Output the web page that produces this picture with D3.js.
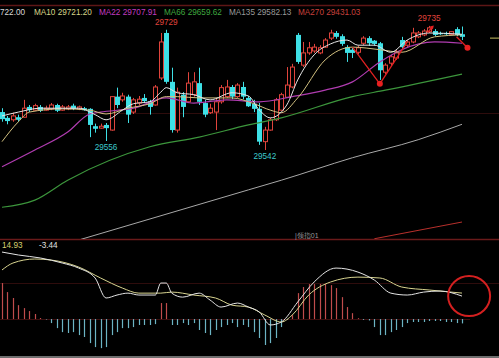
<!DOCTYPE html>
<html><head><meta charset="utf-8">
<script src="https://cdn.jsdelivr.net/npm/d3@7"></script>
<style>body{margin:0;background:#000;overflow:hidden}svg{display:block}text{font-family:"Liberation Sans",Arial,sans-serif}</style>
</head><body><svg id="c" width="499" height="358"></svg>
<script>
// ---- candles (price) ----
const opens=[29601,29592,29589,29593,29593,29609,29604,29609,29604,29606,
29612,29604,29606,29611,29606,29607,29606,29579,29576,29581,
29573,29625,29620,29625,29601,29615,29623,29618,29612,29654,
29724,29648,29573,29628,29617,29628,29646,29615,29600,29601,
29617,29625,29640,29625,29640,29623,29614,29606,29555,29573,
29589,29604,29624,29640,29721,29674,29693,29696,29693,29702,
29716,29724,29719,29702,29698,29694,29708,29716,29712,29708,
29663,29677,29685,29713,29705,29710,29718,29721,29726,29727,
29724,29724,29722,29730,29722];
const highs=[29607,29595,29600,29597,29620,29612,29614,29612,29611,29615,
29614,29612,29612,29614,29611,29609,29607,29583,29583,29584,
29626,29639,29631,29628,29623,29626,29629,29620,29643,29724,
29729,29670,29639,29632,29663,29663,29670,29620,29614,29623,
29643,29651,29643,29646,29648,29626,29620,29615,29578,29592,
29623,29631,29671,29676,29724,29710,29710,29707,29705,29716,
29729,29727,29722,29705,29701,29704,29719,29719,29713,29710,
29677,29690,29698,29718,29713,29732,29727,29730,29735,29730,
29726,29726,29727,29733,29734];
const lows=[29586,29582,29586,29586,29592,29601,29603,29601,29603,29604,
29601,29603,29604,29604,29604,29603,29562,29569,29575,29556,
29572,29607,29617,29584,29598,29612,29615,29597,29611,29651,
29645,29569,29569,29593,29615,29625,29612,29593,29598,29573,
29614,29623,29621,29623,29621,29609,29601,29550,29542,29572,
29587,29603,29623,29638,29676,29671,29690,29693,29691,29701,
29713,29715,29704,29679,29685,29691,29705,29704,29704,29651,
29660,29673,29682,29698,29702,29708,29716,29719,29724,29719,
29721,29721,29721,29719,29713];
const closes=[29590,29587,29595,29589,29607,29604,29611,29603,29607,29612,
29603,29609,29609,29606,29609,29604,29581,29575,29579,29576,
29625,29612,29626,29597,29620,29621,29618,29609,29640,29710,
29648,29573,29632,29609,29646,29648,29617,29597,29607,29617,
29639,29640,29625,29643,29625,29610,29606,29555,29573,29589,
29620,29628,29643,29671,29679,29693,29701,29702,29701,29713,
29724,29718,29707,29693,29693,29701,29716,29708,29707,29666,
29674,29687,29693,29702,29710,29724,29724,29727,29732,29721,
29722,29722,29726,29721,29718];

// ---- moving averages (read points: candle index / value) ----
const ma5Idx=[0,3,7,11,14,17,19,22,24,27,29,30,32,35,38,42,45,47,49,52,54,57,60,63,65,68,71,74,78,84];
const ma5Val=[29595,29601,29607,29607,29607,29597,29589,29604,29614,29617,29632,29639,29631,29628,29620,29631,29626,29604,29592,29612,29651,29690,29707,29713,29705,29705,29694,29713,29724,29722];
const ma10Idx=[0,3,5,11,16,19,23,27,30,32,36,42,46,49,51,54,59,64,69,73,79,84];
const ma10Val=[29555,29586,29601,29606,29604,29598,29607,29614,29625,29625,29623,29623,29614,29604,29600,29623,29682,29702,29698,29694,29718,29721];
const ma22Idx=[0,6,12,16,18,24,30,35,41,47,53,59,64,69,73,79,84];
const ma22Val=[29516,29542,29570,29598,29601,29607,29623,29615,29620,29617,29625,29635,29648,29679,29698,29710,29708];
const ma66Idx=[0,6,12,27,36,45,51,64,70,84];
const ma66Val=[29453,29464,29495,29547,29562,29581,29592,29625,29635,29660];
const ma135Idx=[14,45,51,64,76,84];
const ma135Val=[29402,29480,29495,29530,29558,29582];
const ma270Idx=[68,84];
const ma270Val=[29404,29430];

// legend texts as visible in the picture (MA5's label is cut by the left edge)
const legendNames=["","MA10","MA22","MA66","MA135","MA270"];
const legendValues=["722.00","29721.20","29707.91","29659.62","29582.13","29431.03"];

// ---- MACD ----
const macdHist=[20.7,15.5,12.1,8.0,6.3,4.6,2.9,0.6,-0.3,-2.3,
-5.2,-7.5,-8.0,-7.5,-9.2,-10.3,-13.8,-16.1,-16.7,-16.1,
-9.2,-7.5,-5.2,-5.2,-4.6,-3.4,-3.4,-3.4,-2.9,9.2,
9.2,-3.4,-3.4,-2.3,-3.4,-2.3,-6.3,-8.0,-9.2,-6.3,
-4.6,-3.4,-2.3,-4.6,-3.4,-4.6,-7.5,-10.9,-14.9,-13.8,
-10.9,-4.6,-0.5,2.3,14.9,18.4,20.1,20.1,20.1,20.1,
19.5,17.8,12.6,6.9,3.4,0.5,-0.5,-0.8,-4.6,-9.2,
-9.2,-7.5,-6.3,-4.6,-2.3,-1.7,-1.7,-1.7,-1.1,-1.1,
-1.1,-1.7,-1.7,-2.3,-2.5];
const difIdx=[0,3,7,11,14,17,19,21,23,25,28,29,30,31,33,36,38,40,43,45,47,49,51,54,57,61,65,68,71,74,77,80,84];
const difVal=[38.5,36.8,35.1,32.2,29.3,23.6,12.1,13.8,14.9,13.8,13.8,20.7,20.7,14.9,12.6,14.9,10.9,6.9,9.2,6.9,4.0,-3.4,-1.7,9.8,21.3,29.3,27.0,22.4,14.9,13.8,15.5,16.1,13.2];
const deaIdx=[0,2,6,9,14,18,22,25,29,31,35,39,42,45,48,51,53,56,60,65,69,73,78,82,84];
const deaVal=[28.2,32.2,34.5,33.9,29.9,23.6,17.8,14.9,14.9,15.5,13.8,12.1,8.0,6.9,2.3,-1.7,2.3,13.8,21.3,24.1,23.6,18.4,16.7,15.5,14.93];
const macdHeader=["14.93","-3.44"];

const peakLabels=[{i:30,p:29729,t:"29729",c:"#e0443c",hi:true},{i:19,p:29556,t:"29556",c:"#3cc8cc",hi:false},
{i:48,p:29542,t:"29542",c:"#3cc8cc",hi:false},{i:78,p:29735,t:"29735",c:"#e0443c",hi:true}];

// ---- drawing ----
const svg=d3.select("#c");
svg.append("rect").attr("width",499).attr("height",358).attr("fill","#000");
const x=d3.scaleLinear().domain([0,84]).range([2,462]);
const yP=d3.scaleLinear().domain([29403.6,29767.5]).range([239,5]);
const yM=d3.scaleLinear().domain([-21.8,46]).range([357,239]);

svg.append("clipPath").attr("id","mainclip").append("rect").attr("x",0).attr("y",6).attr("width",499).attr("height",233);
svg.append("clipPath").attr("id","macdclip").append("rect").attr("x",0).attr("y",240).attr("width",499).attr("height",116);

// frame lines
svg.append("line").attr("x1",0).attr("x2",499).attr("y1",5.5).attr("y2",5.5).attr("stroke","#5e1616").attr("stroke-width",1.5);
svg.append("line").attr("x1",0).attr("x2",499).attr("y1",Math.round(yP(29600))+0.5).attr("y2",Math.round(yP(29600))+0.5).attr("stroke","#2e0c0c").attr("stroke-width",1);
svg.append("line").attr("x1",0).attr("x2",499).attr("y1",239.5).attr("y2",239.5).attr("stroke","#6a1a1a").attr("stroke-width",1.5);
svg.append("line").attr("x1",0).attr("x2",499).attr("y1",Math.round(yM(21))+0.5).attr("y2",Math.round(yM(21))+0.5).attr("stroke","#2e0c0c");
svg.append("line").attr("x1",0).attr("x2",470).attr("y1",Math.round(yM(0))+0.5).attr("y2",Math.round(yM(0))+0.5).attr("stroke","#3a0e0e");
svg.append("rect").attr("x",0).attr("y",356).attr("width",499).attr("height",2).attr("fill","#6e6e6e");

// legend
const legendX=[0,34,99,164,229,298];
const legendCol=["#d8d8d8","#d6d488","#c23cc0","#3fa83f","#9a9a9a","#c8403c"];
legendNames.forEach((n,k)=>{
  svg.append("text").attr("x",legendX[k]).attr("y",14.5).attr("font-size",8.2)
   .attr("fill",legendCol[k]).text((n?n+" ":"")+legendValues[k]);
});

const main=svg.append("g").attr("clip-path","url(#mainclip)");
// MA lines
const maSets=[[ma270Idx,ma270Val,"#b8302c",1],[ma135Idx,ma135Val,"#a8a8a8",1],[ma66Idx,ma66Val,"#3c963c",1.2],
[ma22Idx,ma22Val,"#b03cb0",1.2],[ma10Idx,ma10Val,"#d2c080",1],[ma5Idx,ma5Val,"#e6e6e6",1]];
const lineG=d3.line().x(d=>x(d[0])).y(d=>yP(d[1])).curve(d3.curveMonotoneX);

// candles
const data=d3.range(opens.length).map(i=>({i,o:opens[i],h:highs[i],l:lows[i],c:closes[i]}));
const cg=main.append("g");
data.forEach(d=>{
  const up=d.c>d.o;
  const col=up?"#e0443c":"#3ee0e6";
  const cx=Math.round(x(d.i))+0.5;
  const top=yP(Math.max(d.o,d.c)), bot=yP(Math.min(d.o,d.c));
  if(up){
    cg.append("line").attr("x1",cx).attr("x2",cx).attr("y1",yP(d.h)).attr("y2",top).attr("stroke",col);
    cg.append("line").attr("x1",cx).attr("x2",cx).attr("y1",bot).attr("y2",yP(d.l)).attr("stroke",col);
    cg.append("rect").attr("x",cx-2).attr("y",top).attr("width",4).attr("height",Math.max(1,bot-top))
      .attr("fill","#000").attr("stroke",col).attr("stroke-width",1);
  } else {
    cg.append("line").attr("x1",cx).attr("x2",cx).attr("y1",yP(d.h)).attr("y2",yP(d.l)).attr("stroke",col);
    cg.append("rect").attr("x",cx-2.5).attr("y",top).attr("width",5).attr("height",Math.max(1.2,bot-top)).attr("fill",col);
  }
});
maSets.forEach(([ix,v,c,w])=>{
  main.append("path").datum(ix.map((k,j)=>[k,v[j]])).attr("d",lineG).attr("fill","none").attr("stroke",c).attr("stroke-width",w);
});

// red hand annotations
const annoPts=[[64,29702],[69,29645],[74,29710]];
main.append("path").datum(annoPts).attr("d",d3.line().x(d=>x(d[0])).y(d=>yP(d[1]))).attr("fill","none").attr("stroke","#e02020").attr("stroke-width",1.3);
main.append("path").datum([[83,29718],[85,29701]]).attr("d",d3.line().x(d=>x(d[0])).y(d=>yP(d[1]))).attr("fill","none").attr("stroke","#e02020").attr("stroke-width",1.3);
[[69,29645],[85,29701]].forEach(p=>main.append("circle").attr("cx",x(p[0])).attr("cy",yP(p[1])).attr("r",3).attr("fill","#e82020"));
const ax=x(78.3), ay=yP(29734);
main.append("path").attr("d",`M${ax-3},${ay+6}L${ax+1},${ay+1}`).attr("stroke","#e82020").attr("stroke-width",1.5);
main.append("path").attr("d",`M${ax+3},${ay-1}L${ax-1},${ay}L${ax+2},${ay+3}Z`).attr("fill","#e82020");

// peak labels
peakLabels.forEach(L=>{
  svg.append("text").attr("x",x(L.i)).attr("y",L.hi?yP(L.p)-5:yP(L.p)+9).attr("text-anchor","middle")
   .attr("font-size",8.2).attr("fill",L.c).text(L.t);
});

// right side last price marker
const lastMarker=29716;
svg.append("line").attr("x1",490).attr("x2",499).attr("y1",yP(lastMarker)).attr("y2",yP(lastMarker)).attr("stroke","#c8c060");

svg.append("text").attr("x",295).attr("y",238).attr("font-size",7).attr("fill","#9a9a9a").text("|领指01");

// MACD
const mg=svg.append("g").attr("clip-path","url(#macdclip)");
macdHist.forEach((v,i)=>{
  mg.append("line").attr("x1",Math.round(x(i))+0.5).attr("x2",Math.round(x(i))+0.5)
    .attr("y1",yM(0)).attr("y2",yM(v)).attr("stroke",v>0?"#c04c4c":"#6cb4c4").attr("stroke-width",1.2);
});
const lineM=d3.line().x(d=>x(d[0])).y(d=>yM(d[1])).curve(d3.curveMonotoneX);
mg.append("path").datum(deaIdx.map((k,j)=>[k,deaVal[j]])).attr("d",lineM).attr("fill","none").attr("stroke","#d8d490").attr("stroke-width",1);
mg.append("path").datum(difIdx.map((k,j)=>[k,difVal[j]])).attr("d",lineM).attr("fill","none").attr("stroke","#e4e4e4").attr("stroke-width",1);
svg.append("text").attr("x",2).attr("y",248).attr("font-size",8.2).attr("fill","#d8d070").text(macdHeader[0]);
svg.append("text").attr("x",39).attr("y",248).attr("font-size",8.2).attr("fill","#e0e0e0").text(macdHeader[1]);
svg.append("ellipse").attr("cx",x(85.3)).attr("cy",yM(13.2)).attr("rx",21).attr("ry",20).attr("fill","none").attr("stroke","#d42020").attr("stroke-width",2);
</script></body></html>
